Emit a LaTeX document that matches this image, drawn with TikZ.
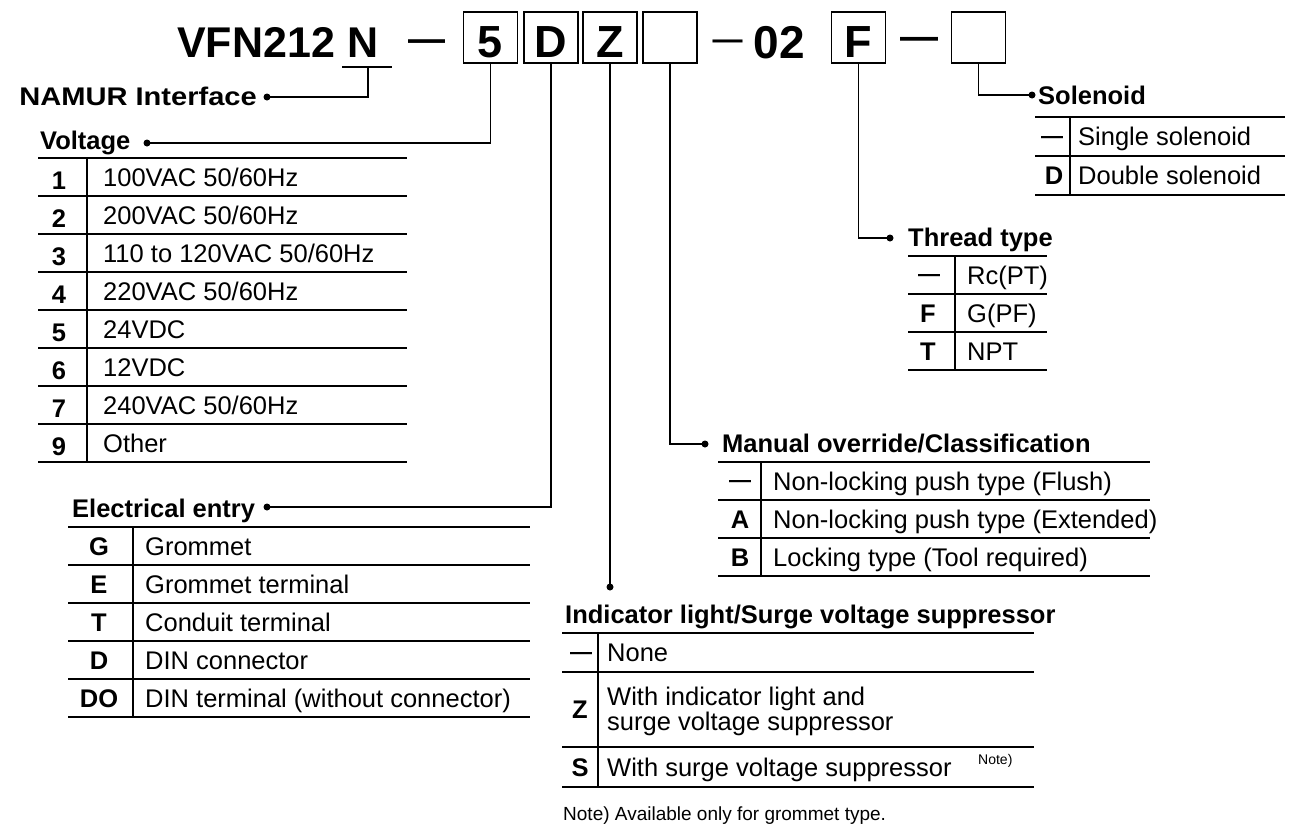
\documentclass[tikz,border=0pt]{standalone}
\usepackage{fontspec}
\usepackage{graphicx}
\setmainfont{Liberation Sans}
\newcommand\fsz[1]{\fontsize{#1}{#1}\selectfont}
\begin{document}
\begin{tikzpicture}[x=1pt,y=-1pt,
  hdr/.style={font=\fsz{43}\bfseries, inner sep=0pt},
  hdash/.style={inner sep=0pt, anchor=base},
  codebox/.style={draw, line width=1.8pt, minimum width=54pt, minimum height=51pt, inner sep=0pt,
                  text height=39pt, text depth=0pt, font=\fsz{45}\bfseries},
  ttl/.style={font=\fsz{25.5}\bfseries, inner sep=0pt, anchor=base west},
  cell/.style={font=\fsz{25.5}, inner sep=0pt, anchor=base west},
  code/.style={font=\fsz{25.5}\bfseries, inner sep=0pt, anchor=base},
  dcode/.style={font=\fsz{22}\bfseries, inner sep=0pt, anchor=base},
  rule/.style={line width=1.8pt},
  conn/.style={line width=1.5pt},
  dotn/.style={circle, fill, inner sep=0pt, minimum size=7pt}]
\useasboundingbox (0,0) rectangle (1290,828);

% ---------- header ----------
\node[hdr, anchor=base west] (vfn) at (177,57) {VFN212};
\node[hdr, anchor=base west] (nn) at (347,57) {N};
\node[hdash, font=\fsz{37}\bfseries] (h1) at (426.5,51) {—};
\node[codebox] (b5) at (490.5,37.5) {5};
\node[codebox] (bD) at (551,37.5) {D};
\node[codebox] (bZ) at (610,37.5) {Z};
\node[codebox] (bM) at (670,37.5) {};
\node[hdash, font=\fsz{30}\bfseries] (h2) at (727.5,49) {—};
\node[hdr, anchor=base, font=\fsz{46}\bfseries] (n02) at (779,58) {02};
\node[codebox] (bF) at (858.5,37.5) {F};
\node[hdash, font=\fsz{38}\bfseries] (h3) at (919,49) {—};
\node[codebox] (bS) at (978.5,37.5) {};

% ---------- titles and dots ----------
\node[ttl, anchor=base east] (tN) at (257,105) {\scalebox{1.14}[1]{NAMUR Interface}};
\node[dotn] (dN) at (267,97) {};
\coordinate (nul) at (342,67);
\coordinate (nur) at (392,67);
\coordinate (num) at (368,67);

\node[ttl] (tV) at (40,149) {Voltage};
\node[dotn] (dV) at (147,143) {};

\node[ttl] (tE) at (72,517) {Electrical entry};
\node[dotn] (dE) at (267,507) {};

\node[dotn] (dI) at (610,587) {};
\node[ttl] (tI) at (565,623) {Indicator light/Surge voltage suppressor};

\node[dotn] (dM) at (705,444) {};
\node[ttl] (tM) at (722,452) {Manual override/Classification};

\node[dotn] (dT) at (890,238) {};
\node[ttl] (tT) at (908,246) {Thread type};

\node[dotn] (dS) at (1032,95) {};
\node[ttl] (tS) at (1038,104) {Solenoid};

% ---------- connectors ----------
\draw[conn] (nul) -- (nur);
\draw[conn] (num) |- (dN.center);
\draw[conn] (b5.south) |- (dV.center);
\draw[conn] (bD.south) |- (dE.center);
\draw[conn] (bZ.south) -- (dI.center);
\draw[conn] (bM.south) |- (dM.center);
\draw[conn] (bF.south) |- (dT.center);
\draw[conn] (bS.south) |- (dS.center);

% ---------- Voltage table ----------
\foreach \k in {0,...,8} \draw[rule] (38,{158+38*\k}) -- (407,{158+38*\k});
\draw[rule] (87,158) -- (87,462);
\node[code] (v1c) at (59,189) {1};  \node[cell] (v1t) at (103,186) {100VAC 50/60Hz};
\node[code] (v2c) at (59,227) {2};  \node[cell] (v2t) at (103,224) {200VAC 50/60Hz};
\node[code] (v3c) at (59,265) {3};  \node[cell] (v3t) at (103,262) {110 to 120VAC 50/60Hz};
\node[code] (v4c) at (59,303) {4};  \node[cell] (v4t) at (103,300) {220VAC 50/60Hz};
\node[code] (v5c) at (59,341) {5};  \node[cell] (v5t) at (103,338) {24VDC};
\node[code] (v6c) at (59,379) {6};  \node[cell] (v6t) at (103,376) {12VDC};
\node[code] (v7c) at (59,417) {7};  \node[cell] (v7t) at (103,414) {240VAC 50/60Hz};
\node[code] (v9c) at (59,455) {9};  \node[cell] (v9t) at (103,452) {Other};

% ---------- Electrical entry table ----------
\foreach \k in {0,...,5} \draw[rule] (68,{527+38*\k}) -- (530,{527+38*\k});
\draw[rule] (133,527) -- (133,717);
\node[code] (e1c) at (99,555) {G};  \node[cell] (e1t) at (145,555) {Grommet};
\node[code] (e2c) at (99,593) {E};  \node[cell] (e2t) at (145,593) {Grommet terminal};
\node[code] (e3c) at (99,631) {T};  \node[cell] (e3t) at (145,631) {Conduit terminal};
\node[code] (e4c) at (99,669) {D};  \node[cell] (e4t) at (145,669) {DIN connector};
\node[code] (e5c) at (99,707) {DO}; \node[cell] (e5t) at (145,707) {DIN terminal (without connector)};

% ---------- Indicator light table ----------
\foreach \yy in {633,672,747,787} \draw[rule] (562,\yy) -- (1034,\yy);
\draw[rule] (598,633) -- (598,787);
\node[dcode] (i1c) at (581,659) {—}; \node[cell] (i1t) at (607,661.5) {None};
\node[code] (i2c) at (580,718.5) {Z};
\node[cell] (i2a) at (607,705) {With indicator light and};
\node[cell] (i2b) at (607,730) {surge voltage suppressor};
\node[code] (i3c) at (580,776) {S};  \node[cell] (i3t) at (607,776) {With surge voltage suppressor};
\node[font=\fsz{14}, inner sep=0pt, anchor=base west] (i3n) at (978,764) {Note)};
\node[font=\fsz{19}, inner sep=0pt, anchor=base west] (note) at (563,820) {Note) Available only for grommet type.};

% ---------- Manual override table ----------
\foreach \k in {0,...,3} \draw[rule] (718,{462+38*\k}) -- (1150,{462+38*\k});
\draw[rule] (761,462) -- (761,576);
\node[dcode] (m1c) at (740,487) {—}; \node[cell] (m1t) at (773,490) {Non-locking push type (Flush)};
\node[code] (m2c) at (740,528) {A};  \node[cell] (m2t) at (773,528) {Non-locking push type (Extended)};
\node[code] (m3c) at (740,566) {B};  \node[cell] (m3t) at (773,566) {Locking type (Tool required)};

% ---------- Thread type table ----------
\foreach \k in {0,...,3} \draw[rule] (908,{256+38*\k}) -- (1047,{256+38*\k});
\draw[rule] (955,256) -- (955,370);
\node[dcode] (t1c) at (929,281) {—}; \node[cell] (t1t) at (967,284) {Rc(PT)};
\node[code] (t2c) at (928,322) {F};  \node[cell] (t2t) at (967,322) {G(PF)};
\node[code] (t3c) at (928,360) {T};  \node[cell] (t3t) at (967,360) {NPT};

% ---------- Solenoid table ----------
\foreach \yy in {117,156,195} \draw[rule] (1035,\yy) -- (1285,\yy);
\draw[rule] (1070,117) -- (1070,195);
\node[dcode] (s1c) at (1052,143) {—}; \node[cell] (s1t) at (1078,145.5) {Single solenoid};
\node[code] (s2c) at (1054,184.5) {D};   \node[cell] (s2t) at (1078,184.5) {Double solenoid};
\end{tikzpicture}
\end{document}
